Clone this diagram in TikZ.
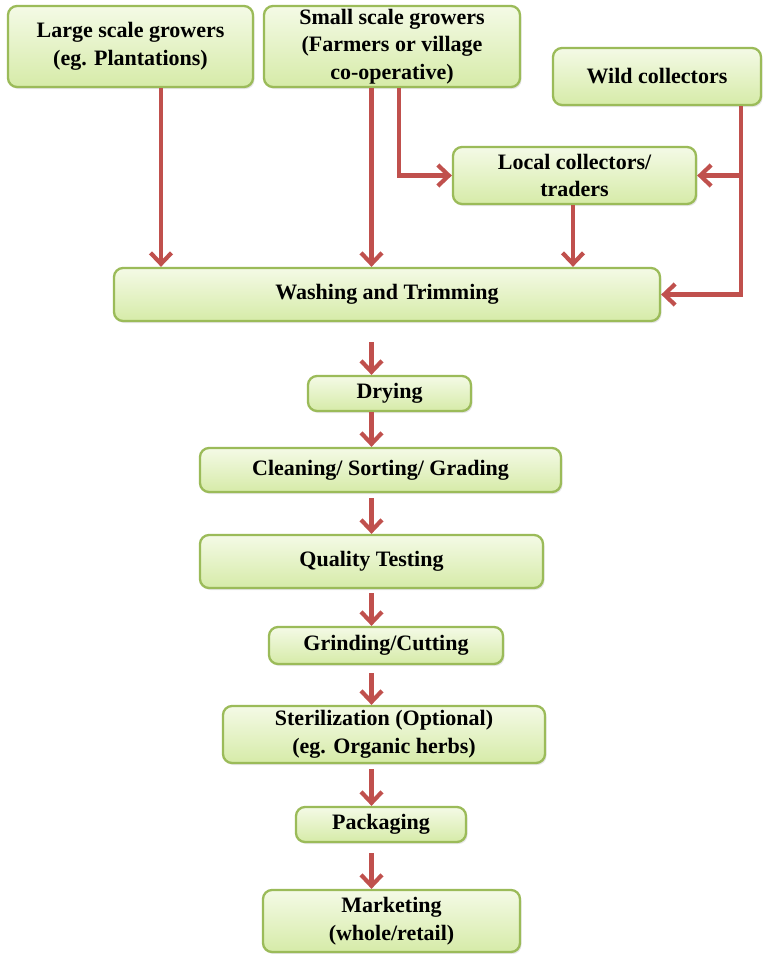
\documentclass[tikz,border=0pt]{standalone}
\usepackage{fontspec}
\setmainfont{Liberation Serif}
\usetikzlibrary{arrows.meta,shadows}
\definecolor{edgegreen}{HTML}{9BBB59}
\definecolor{filltop}{HTML}{F4FAE6}
\definecolor{fillbot}{HTML}{D6EBA8}
\definecolor{arrowred}{HTML}{C0504D}
\begin{document}
\begin{tikzpicture}[x=1pt,y=-1pt,
  stage/.style={draw=edgegreen, line width=2.3pt, rounded corners=9pt,
    top color=filltop, bottom color=fillbot, align=center, inner sep=0pt,
    font=\fontsize{22}{27.5}\selectfont\bfseries,
    drop shadow={shadow xshift=1.5pt, shadow yshift=-2pt, opacity=0.2}},
  flow/.style={draw=arrowred, line width=4.2pt,
    -{Straight Barb[length=11pt, width=21pt]}}]
\useasboundingbox (0,0) rectangle (763,954);

% process boxes
\node[stage, minimum width=245pt, minimum height=81pt] (large) at (130.5,46.5)
  {Large scale growers\\(eg. Plantations)};
\node[stage, minimum width=256pt, minimum height=81pt] (small) at (392,46.5)
  {Small scale growers\\(Farmers or village\\co-operative)};
\node[stage, minimum width=208pt, minimum height=57pt] (wild) at (657,76.5)
  {Wild collectors};
\node[stage, minimum width=243pt, minimum height=57pt] (local) at (574.5,175.5)
  {Local collectors/\\traders};
\node[stage, minimum width=546pt, minimum height=53pt] (wash) at (387,294.5)
  {Washing and Trimming};
\node[stage, minimum width=163pt, minimum height=35pt] (dry) at (389.5,393.5)
  {Drying};
\node[stage, minimum width=361pt, minimum height=44pt] (clean) at (380.5,470)
  {Cleaning/ Sorting/ Grading};
\node[stage, minimum width=343pt, minimum height=53pt] (qual) at (371.5,561.5)
  {Quality Testing};
\node[stage, minimum width=234pt, minimum height=37pt] (grind) at (386,645.5)
  {Grinding/Cutting};
\node[stage, minimum width=322pt, minimum height=57pt] (steril) at (384,734.5)
  {Sterilization (Optional)\\(eg. Organic herbs)};
\node[stage, minimum width=170pt, minimum height=35pt] (pack) at (381,824.5)
  {Packaging};
\node[stage, minimum width=257pt, minimum height=62pt] (market) at (391.5,921)
  {Marketing\\(whole/retail)};

% connector columns
\coordinate (colA) at (161,0);
\coordinate (colB) at (371.5,0);
\coordinate (colC) at (399,0);
\coordinate (colD) at (573,0);
\coordinate (colE) at (741,0);

% inputs to washing
\draw[flow] (colA |- large.south) -- (colA |- wash.north);
\draw[flow] (colB |- small.south) -- (colB |- wash.north);
\draw[flow] (colC |- small.south) |- (local.west);
\draw[flow] (colD |- local.south) -- (colD |- wash.north);
\draw[flow] (colE |- wild.south) |- (wash.east);
\draw[flow] (colE |- local.east) -- (local.east);

% main processing chain
\draw[flow, shorten <=20pt] (colB |- wash.south) -- (colB |- dry.north);
\draw[flow] (colB |- dry.south) -- (colB |- clean.north);
\draw[flow, shorten <=5pt] (colB |- clean.south) -- (colB |- qual.north);
\draw[flow, shorten <=4pt] (colB |- qual.south) -- (colB |- grind.north);
\draw[flow, shorten <=8pt] (colB |- grind.south) -- (colB |- steril.north);
\draw[flow, shorten <=5pt] (colB |- steril.south) -- (colB |- pack.north);
\draw[flow, shorten <=10pt] (colB |- pack.south) -- (colB |- market.north);
\end{tikzpicture}
\end{document}
